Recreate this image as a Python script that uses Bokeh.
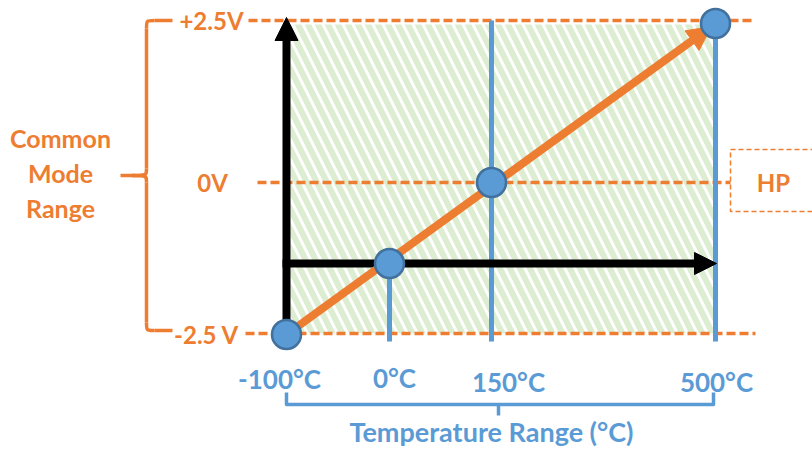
from bokeh.plotting import figure
from bokeh.models import Range1d, Arrow, NormalHead
from bokeh.core.properties import value
from bokeh.embed import file_html
from bokeh.resources import INLINE

# ---- data (diagram coordinates, y grows downwards) ----
temp_labels = ["-100°C", "0°C", "150°C", "500°C"]
temp_x = [286, 389, 491, 715]          # x of each temperature mark
temp_label_x = [279, 394, 508, 716]
temp_label_y = [378, 377, 381, 381]
volt_labels = ["+2.5V", "0V", "-2.5 V"]
volt_y = [20, 182, 333]                # y of each voltage level
point_y = [334, 263, 182, 23]          # output at each temperature
cm_words = ["Common", "Mode", "Range"]
cm_y = [137, 172, 207]
hp_label = "HP"
x_title = "Temperature Range (°C)"

ORANGE = "#ED7D31"
BLUE = "#5B9BD5"
BLUE_DARK = "#41719C"
FONT = value("Lato")

p = figure(width=812, height=449, x_range=Range1d(0, 812), y_range=Range1d(449, 0),
           x_axis_location=None, y_axis_location=None, toolbar_location=None,
           output_backend="svg", min_border=0, outline_line_color=None)
p.grid.visible = False
p.background_fill_color = "white"

# hatched region
p.quad(left=[temp_x[0] + 4], right=[temp_x[3] - 2], top=[volt_y[0] + 4], bottom=[volt_y[2]],
       fill_color=None, line_color=None, hatch_pattern="\\", hatch_color="#DCEDD1",
       hatch_scale=20, hatch_weight=6)

# dashed voltage levels
p.segment(x0=[248, 257, 245], x1=[755, 730, 755], y0=volt_y, y1=volt_y,
          line_color=ORANGE, line_width=3.5, line_dash="9 4")

# HP box
p.quad(left=[730], right=[840], top=[volt_y[1] - 33], bottom=[volt_y[1] + 29],
       fill_color=None, line_color=ORANGE, line_width=1.5, line_dash="5 3")
p.text(x=[773], y=[volt_y[1]], text=[hp_label], text_color=ORANGE, text_font=FONT,
       text_font_style="bold", text_font_size="24px", text_align="center", text_baseline="middle")

# blue vertical temperature lines
p.segment(x0=temp_x[1:], x1=temp_x[1:], y0=[point_y[1], volt_y[0], point_y[3]], y1=[341, 341, 341],
          line_color=BLUE, line_width=5)

# black axes arrows
p.add_layout(Arrow(x_start=temp_x[0], y_start=volt_y[2] + 2, x_end=temp_x[0], y_end=volt_y[0] - 3,
                   line_width=8, line_color="black",
                   end=NormalHead(size=23, fill_color="black", line_color="black")))
p.add_layout(Arrow(x_start=temp_x[0] - 4, y_start=point_y[1], x_end=temp_x[3] + 1, y_end=point_y[1],
                   line_width=8, line_color="black",
                   end=NormalHead(size=22, fill_color="black", line_color="black")))
# orange transfer arrow
p.add_layout(Arrow(x_start=temp_x[0], y_start=point_y[0], x_end=temp_x[3] - 4, y_end=point_y[3] + 3,
                   line_width=8, line_color=ORANGE,
                   end=NormalHead(size=24, fill_color=ORANGE, line_color=ORANGE)))

# points
pts = p.scatter(x=temp_x, y=point_y, size=29, fill_color=BLUE, line_color=BLUE_DARK, line_width=2.5)
pts.level = "overlay"

# voltage labels
p.text(x=[211, 212, 206], y=[20, 182, 334], text=volt_labels, text_color=ORANGE, text_font=FONT,
       text_font_style="bold", text_font_size="24px", text_align="center", text_baseline="middle")
# common mode range label
p.text(x=[60, 60, 60], y=cm_y, text=cm_words, text_color=ORANGE, text_font=FONT,
       text_font_style="bold", text_font_size="25px", text_align="center", text_baseline="middle")

# curly brace
bx = 146
top, bot, mid = volt_y[0], 330, 175
p.segment(x0=[bx, bx, bx + 8, bx + 8, 120], x1=[bx, bx, 172, 172, 134],
          y0=[top + 8, mid + 7, top, bot, mid], y1=[mid - 7, bot - 8, top, bot, mid],
          line_color=ORANGE, line_width=3.5)
p.bezier(x0=[bx, bx, bx, bx], y0=[top + 8, bot - 8, mid - 7, mid + 7],
         x1=[bx + 8, bx + 8, 132, 132], y1=[top, bot, mid, mid],
         cx0=[bx, bx, bx, bx], cy0=[top, bot, mid, mid],
         cx1=[bx, bx, bx, bx], cy1=[top, bot, mid, mid],
         line_color=ORANGE, line_width=3.5)

# temperature labels
p.text(x=temp_label_x, y=temp_label_y, text=temp_labels, text_color=BLUE, text_font=FONT,
       text_font_style="bold", text_font_size="26px", text_align="center", text_baseline="middle")

# blue bracket
p.line(x=[temp_x[0], temp_x[0], temp_x[3] - 2, temp_x[3] - 2], y=[392, 404, 404, 392],
       line_color=BLUE, line_width=3.5, line_join="round")
p.segment(x0=[498], x1=[498], y0=[404], y1=[415], line_color=BLUE, line_width=3.5)
p.text(x=[491], y=[431], text=[x_title], text_color=BLUE, text_font=FONT,
       text_font_style="bold", text_font_size="27px", text_align="center", text_baseline="middle")

open("out.html", "w").write(file_html(p, INLINE))
